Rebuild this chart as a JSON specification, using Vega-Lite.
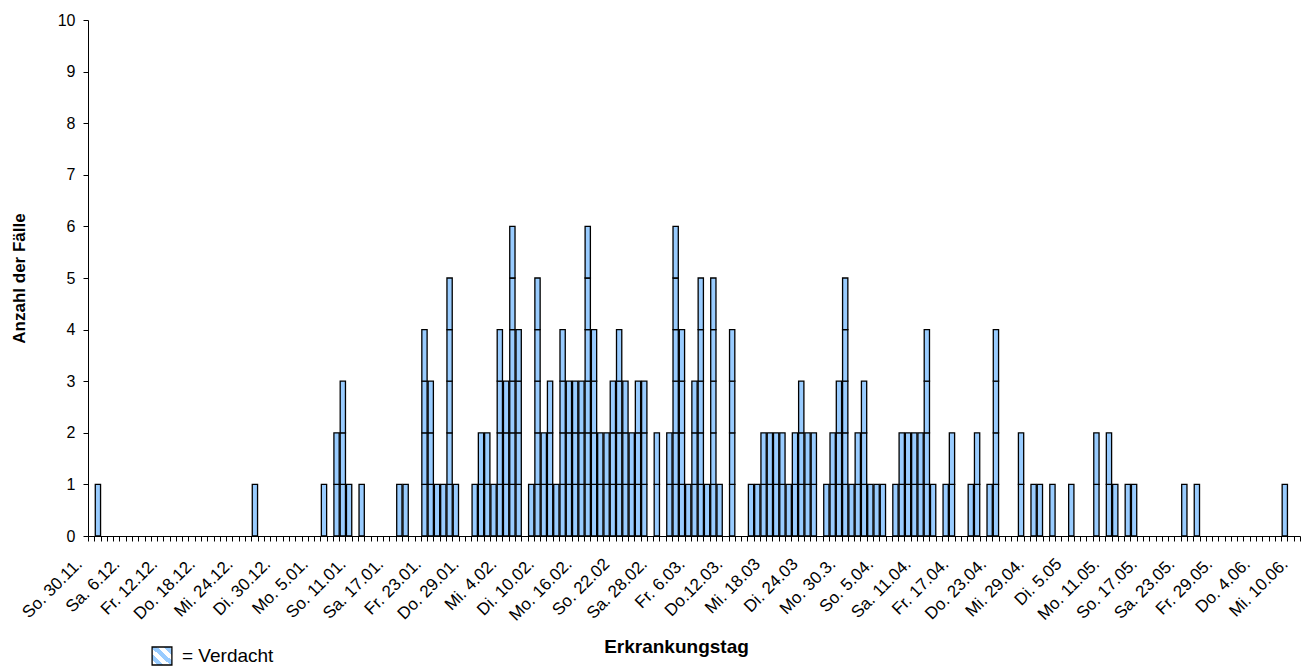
{
  "$schema": "https://vega.github.io/schema/vega-lite/v6.json",
  "width": 1212,
  "height": 516,
  "autosize": "none",
  "padding": {"left": 88, "top": 20, "right": 4, "bottom": 132},
  "background": "white",
  "config": {"view": {"stroke": null}, "font": "Liberation Sans"},
  "data": {"values": [
    {"tag":"2008-12-01","n":1,"status":"bestätigt"},
    {"tag":"2008-12-26","n":1,"status":"bestätigt"},
    {"tag":"2009-01-06","n":1,"status":"bestätigt"},
    {"tag":"2009-01-08","n":1,"status":"bestätigt"},{"tag":"2009-01-08","n":1,"status":"bestätigt"},
    {"tag":"2009-01-09","n":1,"status":"bestätigt"},{"tag":"2009-01-09","n":1,"status":"bestätigt"},{"tag":"2009-01-09","n":1,"status":"bestätigt"},
    {"tag":"2009-01-10","n":1,"status":"bestätigt"},
    {"tag":"2009-01-12","n":1,"status":"bestätigt"},
    {"tag":"2009-01-18","n":1,"status":"bestätigt"},
    {"tag":"2009-01-19","n":1,"status":"bestätigt"},
    {"tag":"2009-01-22","n":1,"status":"bestätigt"},{"tag":"2009-01-22","n":1,"status":"bestätigt"},{"tag":"2009-01-22","n":1,"status":"bestätigt"},{"tag":"2009-01-22","n":1,"status":"bestätigt"},
    {"tag":"2009-01-23","n":1,"status":"bestätigt"},{"tag":"2009-01-23","n":1,"status":"bestätigt"},{"tag":"2009-01-23","n":1,"status":"bestätigt"},
    {"tag":"2009-01-24","n":1,"status":"bestätigt"},
    {"tag":"2009-01-25","n":1,"status":"bestätigt"},
    {"tag":"2009-01-26","n":1,"status":"bestätigt"},{"tag":"2009-01-26","n":1,"status":"bestätigt"},{"tag":"2009-01-26","n":1,"status":"bestätigt"},{"tag":"2009-01-26","n":1,"status":"bestätigt"},{"tag":"2009-01-26","n":1,"status":"bestätigt"},
    {"tag":"2009-01-27","n":1,"status":"bestätigt"},
    {"tag":"2009-01-30","n":1,"status":"bestätigt"},
    {"tag":"2009-01-31","n":1,"status":"bestätigt"},{"tag":"2009-01-31","n":1,"status":"bestätigt"},
    {"tag":"2009-02-01","n":1,"status":"bestätigt"},{"tag":"2009-02-01","n":1,"status":"bestätigt"},
    {"tag":"2009-02-02","n":1,"status":"bestätigt"},
    {"tag":"2009-02-03","n":1,"status":"bestätigt"},{"tag":"2009-02-03","n":1,"status":"bestätigt"},{"tag":"2009-02-03","n":1,"status":"bestätigt"},{"tag":"2009-02-03","n":1,"status":"bestätigt"},
    {"tag":"2009-02-04","n":1,"status":"bestätigt"},{"tag":"2009-02-04","n":1,"status":"bestätigt"},{"tag":"2009-02-04","n":1,"status":"bestätigt"},
    {"tag":"2009-02-05","n":1,"status":"bestätigt"},{"tag":"2009-02-05","n":1,"status":"bestätigt"},{"tag":"2009-02-05","n":1,"status":"bestätigt"},{"tag":"2009-02-05","n":1,"status":"bestätigt"},{"tag":"2009-02-05","n":1,"status":"bestätigt"},{"tag":"2009-02-05","n":1,"status":"bestätigt"},
    {"tag":"2009-02-06","n":1,"status":"bestätigt"},{"tag":"2009-02-06","n":1,"status":"bestätigt"},{"tag":"2009-02-06","n":1,"status":"bestätigt"},{"tag":"2009-02-06","n":1,"status":"bestätigt"},
    {"tag":"2009-02-08","n":1,"status":"bestätigt"},
    {"tag":"2009-02-09","n":1,"status":"bestätigt"},{"tag":"2009-02-09","n":1,"status":"bestätigt"},{"tag":"2009-02-09","n":1,"status":"bestätigt"},{"tag":"2009-02-09","n":1,"status":"bestätigt"},{"tag":"2009-02-09","n":1,"status":"bestätigt"},
    {"tag":"2009-02-10","n":1,"status":"bestätigt"},{"tag":"2009-02-10","n":1,"status":"bestätigt"},
    {"tag":"2009-02-11","n":1,"status":"bestätigt"},{"tag":"2009-02-11","n":1,"status":"bestätigt"},{"tag":"2009-02-11","n":1,"status":"bestätigt"},
    {"tag":"2009-02-12","n":1,"status":"bestätigt"},
    {"tag":"2009-02-13","n":1,"status":"bestätigt"},{"tag":"2009-02-13","n":1,"status":"bestätigt"},{"tag":"2009-02-13","n":1,"status":"bestätigt"},{"tag":"2009-02-13","n":1,"status":"bestätigt"},
    {"tag":"2009-02-14","n":1,"status":"bestätigt"},{"tag":"2009-02-14","n":1,"status":"bestätigt"},{"tag":"2009-02-14","n":1,"status":"bestätigt"},
    {"tag":"2009-02-15","n":1,"status":"bestätigt"},{"tag":"2009-02-15","n":1,"status":"bestätigt"},{"tag":"2009-02-15","n":1,"status":"bestätigt"},
    {"tag":"2009-02-16","n":1,"status":"bestätigt"},{"tag":"2009-02-16","n":1,"status":"bestätigt"},{"tag":"2009-02-16","n":1,"status":"bestätigt"},
    {"tag":"2009-02-17","n":1,"status":"bestätigt"},{"tag":"2009-02-17","n":1,"status":"bestätigt"},{"tag":"2009-02-17","n":1,"status":"bestätigt"},{"tag":"2009-02-17","n":1,"status":"bestätigt"},{"tag":"2009-02-17","n":1,"status":"bestätigt"},{"tag":"2009-02-17","n":1,"status":"bestätigt"},
    {"tag":"2009-02-18","n":1,"status":"bestätigt"},{"tag":"2009-02-18","n":1,"status":"bestätigt"},{"tag":"2009-02-18","n":1,"status":"bestätigt"},{"tag":"2009-02-18","n":1,"status":"bestätigt"},
    {"tag":"2009-02-19","n":1,"status":"bestätigt"},{"tag":"2009-02-19","n":1,"status":"bestätigt"},
    {"tag":"2009-02-20","n":1,"status":"bestätigt"},{"tag":"2009-02-20","n":1,"status":"bestätigt"},
    {"tag":"2009-02-21","n":1,"status":"bestätigt"},{"tag":"2009-02-21","n":1,"status":"bestätigt"},{"tag":"2009-02-21","n":1,"status":"bestätigt"},
    {"tag":"2009-02-22","n":1,"status":"bestätigt"},{"tag":"2009-02-22","n":1,"status":"bestätigt"},{"tag":"2009-02-22","n":1,"status":"bestätigt"},{"tag":"2009-02-22","n":1,"status":"bestätigt"},
    {"tag":"2009-02-23","n":1,"status":"bestätigt"},{"tag":"2009-02-23","n":1,"status":"bestätigt"},{"tag":"2009-02-23","n":1,"status":"bestätigt"},
    {"tag":"2009-02-24","n":1,"status":"bestätigt"},{"tag":"2009-02-24","n":1,"status":"bestätigt"},
    {"tag":"2009-02-25","n":1,"status":"bestätigt"},{"tag":"2009-02-25","n":1,"status":"bestätigt"},{"tag":"2009-02-25","n":1,"status":"bestätigt"},
    {"tag":"2009-02-26","n":1,"status":"bestätigt"},{"tag":"2009-02-26","n":1,"status":"bestätigt"},{"tag":"2009-02-26","n":1,"status":"bestätigt"},
    {"tag":"2009-02-28","n":1,"status":"bestätigt"},{"tag":"2009-02-28","n":1,"status":"bestätigt"},
    {"tag":"2009-03-02","n":1,"status":"bestätigt"},{"tag":"2009-03-02","n":1,"status":"bestätigt"},
    {"tag":"2009-03-03","n":1,"status":"bestätigt"},{"tag":"2009-03-03","n":1,"status":"bestätigt"},{"tag":"2009-03-03","n":1,"status":"bestätigt"},{"tag":"2009-03-03","n":1,"status":"bestätigt"},{"tag":"2009-03-03","n":1,"status":"bestätigt"},{"tag":"2009-03-03","n":1,"status":"bestätigt"},
    {"tag":"2009-03-04","n":1,"status":"bestätigt"},{"tag":"2009-03-04","n":1,"status":"bestätigt"},{"tag":"2009-03-04","n":1,"status":"bestätigt"},{"tag":"2009-03-04","n":1,"status":"bestätigt"},
    {"tag":"2009-03-05","n":1,"status":"bestätigt"},
    {"tag":"2009-03-06","n":1,"status":"bestätigt"},{"tag":"2009-03-06","n":1,"status":"bestätigt"},{"tag":"2009-03-06","n":1,"status":"bestätigt"},
    {"tag":"2009-03-07","n":1,"status":"bestätigt"},{"tag":"2009-03-07","n":1,"status":"bestätigt"},{"tag":"2009-03-07","n":1,"status":"bestätigt"},{"tag":"2009-03-07","n":1,"status":"bestätigt"},{"tag":"2009-03-07","n":1,"status":"bestätigt"},
    {"tag":"2009-03-08","n":1,"status":"bestätigt"},
    {"tag":"2009-03-09","n":1,"status":"bestätigt"},{"tag":"2009-03-09","n":1,"status":"bestätigt"},{"tag":"2009-03-09","n":1,"status":"bestätigt"},{"tag":"2009-03-09","n":1,"status":"bestätigt"},{"tag":"2009-03-09","n":1,"status":"bestätigt"},
    {"tag":"2009-03-10","n":1,"status":"bestätigt"},
    {"tag":"2009-03-12","n":1,"status":"bestätigt"},{"tag":"2009-03-12","n":1,"status":"bestätigt"},{"tag":"2009-03-12","n":1,"status":"bestätigt"},{"tag":"2009-03-12","n":1,"status":"bestätigt"},
    {"tag":"2009-03-15","n":1,"status":"bestätigt"},
    {"tag":"2009-03-16","n":1,"status":"bestätigt"},
    {"tag":"2009-03-17","n":1,"status":"bestätigt"},{"tag":"2009-03-17","n":1,"status":"bestätigt"},
    {"tag":"2009-03-18","n":1,"status":"bestätigt"},{"tag":"2009-03-18","n":1,"status":"bestätigt"},
    {"tag":"2009-03-19","n":1,"status":"bestätigt"},{"tag":"2009-03-19","n":1,"status":"bestätigt"},
    {"tag":"2009-03-20","n":1,"status":"bestätigt"},{"tag":"2009-03-20","n":1,"status":"bestätigt"},
    {"tag":"2009-03-21","n":1,"status":"bestätigt"},
    {"tag":"2009-03-22","n":1,"status":"bestätigt"},{"tag":"2009-03-22","n":1,"status":"bestätigt"},
    {"tag":"2009-03-23","n":1,"status":"bestätigt"},{"tag":"2009-03-23","n":1,"status":"bestätigt"},{"tag":"2009-03-23","n":1,"status":"bestätigt"},
    {"tag":"2009-03-24","n":1,"status":"bestätigt"},{"tag":"2009-03-24","n":1,"status":"bestätigt"},
    {"tag":"2009-03-25","n":1,"status":"bestätigt"},{"tag":"2009-03-25","n":1,"status":"bestätigt"},
    {"tag":"2009-03-27","n":1,"status":"bestätigt"},
    {"tag":"2009-03-28","n":1,"status":"bestätigt"},{"tag":"2009-03-28","n":1,"status":"bestätigt"},
    {"tag":"2009-03-29","n":1,"status":"bestätigt"},{"tag":"2009-03-29","n":1,"status":"bestätigt"},{"tag":"2009-03-29","n":1,"status":"bestätigt"},
    {"tag":"2009-03-30","n":1,"status":"bestätigt"},{"tag":"2009-03-30","n":1,"status":"bestätigt"},{"tag":"2009-03-30","n":1,"status":"bestätigt"},{"tag":"2009-03-30","n":1,"status":"bestätigt"},{"tag":"2009-03-30","n":1,"status":"bestätigt"},
    {"tag":"2009-03-31","n":1,"status":"bestätigt"},
    {"tag":"2009-04-01","n":1,"status":"bestätigt"},{"tag":"2009-04-01","n":1,"status":"bestätigt"},
    {"tag":"2009-04-02","n":1,"status":"bestätigt"},{"tag":"2009-04-02","n":1,"status":"bestätigt"},{"tag":"2009-04-02","n":1,"status":"bestätigt"},
    {"tag":"2009-04-03","n":1,"status":"bestätigt"},
    {"tag":"2009-04-04","n":1,"status":"bestätigt"},
    {"tag":"2009-04-05","n":1,"status":"bestätigt"},
    {"tag":"2009-04-07","n":1,"status":"bestätigt"},
    {"tag":"2009-04-08","n":1,"status":"bestätigt"},{"tag":"2009-04-08","n":1,"status":"bestätigt"},
    {"tag":"2009-04-09","n":1,"status":"bestätigt"},{"tag":"2009-04-09","n":1,"status":"bestätigt"},
    {"tag":"2009-04-10","n":1,"status":"bestätigt"},{"tag":"2009-04-10","n":1,"status":"bestätigt"},
    {"tag":"2009-04-11","n":1,"status":"bestätigt"},{"tag":"2009-04-11","n":1,"status":"bestätigt"},
    {"tag":"2009-04-12","n":1,"status":"bestätigt"},{"tag":"2009-04-12","n":1,"status":"bestätigt"},{"tag":"2009-04-12","n":1,"status":"bestätigt"},{"tag":"2009-04-12","n":1,"status":"bestätigt"},
    {"tag":"2009-04-13","n":1,"status":"bestätigt"},
    {"tag":"2009-04-15","n":1,"status":"bestätigt"},
    {"tag":"2009-04-16","n":1,"status":"bestätigt"},{"tag":"2009-04-16","n":1,"status":"bestätigt"},
    {"tag":"2009-04-19","n":1,"status":"bestätigt"},
    {"tag":"2009-04-20","n":1,"status":"bestätigt"},{"tag":"2009-04-20","n":1,"status":"bestätigt"},
    {"tag":"2009-04-22","n":1,"status":"bestätigt"},
    {"tag":"2009-04-23","n":1,"status":"bestätigt"},{"tag":"2009-04-23","n":1,"status":"bestätigt"},{"tag":"2009-04-23","n":1,"status":"bestätigt"},{"tag":"2009-04-23","n":1,"status":"bestätigt"},
    {"tag":"2009-04-27","n":1,"status":"bestätigt"},{"tag":"2009-04-27","n":1,"status":"bestätigt"},
    {"tag":"2009-04-29","n":1,"status":"bestätigt"},
    {"tag":"2009-04-30","n":1,"status":"bestätigt"},
    {"tag":"2009-05-02","n":1,"status":"bestätigt"},
    {"tag":"2009-05-05","n":1,"status":"bestätigt"},
    {"tag":"2009-05-09","n":1,"status":"bestätigt"},{"tag":"2009-05-09","n":1,"status":"bestätigt"},
    {"tag":"2009-05-11","n":1,"status":"bestätigt"},{"tag":"2009-05-11","n":1,"status":"bestätigt"},
    {"tag":"2009-05-12","n":1,"status":"bestätigt"},
    {"tag":"2009-05-14","n":1,"status":"bestätigt"},
    {"tag":"2009-05-15","n":1,"status":"bestätigt"},
    {"tag":"2009-05-23","n":1,"status":"bestätigt"},
    {"tag":"2009-05-25","n":1,"status":"bestätigt"},
    {"tag":"2009-06-08","n":1,"status":"bestätigt"}
  ]},
  "layer": [
    {
      "mark": {"type": "bar", "fill": "#99CCFF", "stroke": "black", "strokeWidth": 1.3},
      "encoding": {
        "x": {
          "field": "tag", "timeUnit": "utcyearmonthdate", "type": "temporal",
          "scale": {"type": "utc", "nice": false, "domain": [{"year": 2008, "month": 11, "date": 30, "utc": true}, {"year": 2009, "month": 6, "date": 11, "utc": true}]},
          "axis": {
            "title": "Erkrankungstag", "titleFontSize": 19, "titleFontWeight": "bold", "titleColor": "black",
            "titleX": 588, "titleY": 116, "titleBaseline": "alphabetic", "titleAlign": "center",
            "tickCount": {"interval": "day", "step": 1},
            "labelExpr": "(round((datum.value - utc(2008,10,30)) / 86400000) % 6 == 0 && round((datum.value - utc(2008,10,30)) / 86400000) <= 192) ? ['So. 30.11.','Sa. 6.12.','Fr. 12.12.','Do. 18.12.','Mi. 24.12.','Di. 30.12.','Mo. 5.01.','So. 11.01.','Sa. 17.01.','Fr. 23.01.','Do. 29.01.','Mi. 4.02.','Di. 10.02.','Mo. 16.02.','So. 22.02','Sa. 28.02.','Fr. 6.03.','Do.12.03.','Mi. 18.03','Di. 24.03','Mo. 30.3.','So. 5.04.','Sa. 11.04.','Fr. 17.04.','Do. 23.04.','Mi. 29.04.','Di. 5.05','Mo. 11.05.','So. 17.05.','Sa. 23.05.','Fr. 29.05.','Do. 4.06.','Mi. 10.06.'][round((datum.value - utc(2008,10,30)) / 86400000) / 6] : ''",
            "labelAngle": -45, "labelAlign": "right", "labelBaseline": "middle",
            "labelOffset": -9, "labelPadding": 20,
            "labelOverlap": false, "labelFlush": false, "labelBound": false,
            "labelFontSize": 17, "labelColor": "black",
            "tickSize": 5, "tickColor": "black", "domainColor": "black", "grid": false
          }
        },
        "y": {
          "field": "n", "type": "quantitative", "stack": "zero",
          "scale": {"domain": [0, 10], "nice": false},
          "axis": {
            "title": "Anzahl der Fälle", "titleFontSize": 17, "titleFontWeight": "bold", "titleColor": "black",
            "titleX": -64, "titleBaseline": "alphabetic",
            "values": [0, 1, 2, 3, 4, 5, 6, 7, 8, 9, 10],
            "labelFontSize": 16, "labelColor": "black", "labelPadding": 8,
            "tickSize": 5, "tickColor": "black", "domainColor": "black", "grid": false
          }
        }
      }
    },
    {
      "transform": [{"filter": "datum.status == 'Verdacht'"}],
      "mark": {"type": "point", "filled": true, "strokeWidth": 1.3, "opacity": 1,
        "fill": {"gradient": "linear", "x1": 0, "y1": 1, "x2": 1, "y2": 0, "stops": [{"offset": 0, "color": "#ffffff"}, {"offset": 0.14, "color": "#ffffff"}, {"offset": 0.14, "color": "#99ccff"}, {"offset": 0.3, "color": "#99ccff"}, {"offset": 0.3, "color": "#ffffff"}, {"offset": 0.46, "color": "#ffffff"}, {"offset": 0.46, "color": "#99ccff"}, {"offset": 0.62, "color": "#99ccff"}, {"offset": 0.62, "color": "#ffffff"}, {"offset": 0.78, "color": "#ffffff"}, {"offset": 0.78, "color": "#99ccff"}, {"offset": 0.94, "color": "#99ccff"}, {"offset": 0.94, "color": "#ffffff"}, {"offset": 1, "color": "#ffffff"}]}},
      "encoding": {
        "stroke": {
          "field": "status", "type": "nominal",
          "scale": {"domain": ["Verdacht"], "range": ["black"]},
          "legend": {
            "labelExpr": "'= Verdacht'", "title": null,
            "orient": "none", "legendX": 64, "legendY": 626,
            "symbolType": "M-1.1,-1H1.1V1H-1.1Z", "symbolSize": 324, "symbolStrokeWidth": 1.3, "symbolOpacity": 1,
            "labelFontSize": 19, "labelColor": "black", "labelOffset": 10
          }
        }
      }
    }
  ]
}
